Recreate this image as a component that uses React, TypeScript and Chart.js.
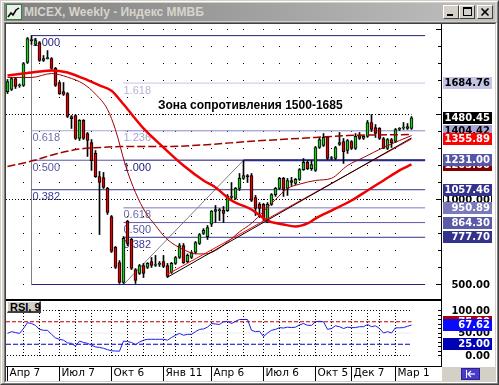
import React, { useEffect, useRef } from 'react';
import { Chart, registerables } from 'chart.js';

Chart.register(...registerables);

// ================= DATA =================
// Weekly candles (index 0 = week of 7 Apr 2008)
const opens = [
  1635, 1647, 1712, 1668, 1671, 1806, 1935, 1912, 1923, 1818,
  1829, 1829, 1771, 1688, 1635, 1623, 1488, 1494, 1359, 1465,
  1388, 1335, 1271, 1135, 1129, 1065, 900, 718, 629, 512,
  871, 765, 588, 565, 612, 600, 635, 612, 618, 635,
  612, 571, 624, 659, 729, 635, 659, 688, 741, 800,
  782, 855, 930, 935, 938, 935, 1012, 1006, 1065, 1124,
  1141, 1141, 1012, 971, 971, 865, 971, 1029, 1065, 1124,
  1065, 1112, 1094, 1118, 1176, 1218, 1182, 1171, 1306, 1318,
  1365, 1241, 1241, 1324, 1341, 1288, 1341, 1300, 1376, 1359,
  1371, 1453, 1423, 1418, 1359, 1300, 1353, 1341, 1412, 1420,
  1418, 1418,
];
const highs = [
  1706, 1718, 1718, 1680, 1806, 1953, 1964, 1947, 1929, 1847,
  1876, 1835, 1777, 1694, 1688, 1629, 1494, 1500, 1470, 1470,
  1394, 1353, 1288, 1165, 1159, 1071, 906, 724, 641, 782,
  877, 771, 594, 618, 624, 629, 659, 671, 635, 671,
  624, 630, 665, 741, 741, 680, 694, 753, 800, 829,
  847, 935, 965, 947, 959, 1029, 1100, 1071, 1153, 1229,
  1147, 1153, 1024, 982, 977, 982, 1035, 1071, 1130, 1130,
  1124, 1130, 1124, 1182, 1241, 1229, 1229, 1312, 1365, 1388,
  1371, 1253, 1312, 1394, 1359, 1353, 1347, 1388, 1394, 1376,
  1465, 1500, 1441, 1423, 1365, 1359, 1359, 1418, 1423, 1453,
  1447, 1488,
];
const lows = [
  1623, 1641, 1653, 1660, 1665, 1800, 1912, 1905, 1812, 1812,
  1826, 1765, 1665, 1618, 1612, 1482, 1418, 1353, 1347, 1353,
  1253, 1171, 1130, 794, 1065, 912, 688, 594, 506, 506,
  729, 588, 506, 559, 541, 594, 600, 606, 606, 600,
  541, 565, 618, 653, 624, 629, 653, 682, 735, 794,
  765, 841, 865, 876, 865, 930, 994, 1000, 1053, 1118,
  1100, 988, 906, 894, 876, 865, 965, 1018, 1059, 1018,
  1024, 1082, 1088, 1112, 1171, 1176, 1171, 1165, 1300, 1312,
  1235, 1235, 1235, 1318, 1212, 1271, 1294, 1294, 1353, 1353,
  1365, 1400, 1365, 1353, 1300, 1294, 1306, 1335, 1406, 1412,
  1412, 1412,
];
const closes = [
  1694, 1712, 1665, 1674, 1800, 1947, 1941, 1935, 1818, 1829,
  1832, 1771, 1671, 1623, 1618, 1488, 1476, 1359, 1465, 1359,
  1347, 1229, 1135, 1100, 1071, 924, 694, 600, 512, 771,
  741, 594, 524, 612, 565, 624, 612, 615, 624, 606,
  547, 624, 659, 729, 629, 671, 688, 747, 794, 818,
  835, 932, 941, 938, 918, 1020, 1018, 1065, 1124, 1141,
  1135, 994, 947, 947, 888, 971, 1029, 1065, 1124, 1059,
  1112, 1100, 1118, 1176, 1218, 1182, 1206, 1306, 1353, 1365,
  1241, 1247, 1306, 1335, 1282, 1347, 1300, 1371, 1359, 1371,
  1453, 1412, 1388, 1359, 1300, 1353, 1335, 1412, 1418, 1423,
  1429, 1480.45,
];
const rsi9 = [
  49, 53, 51, 49, 60, 73, 71, 67, 58, 56,
  56, 47, 39, 36, 34, 28, 27, 21, 32, 29,
  27, 23, 19, 18, 16, 13, 10.5, 10, 9.6, 32,
  31, 29, 24, 30, 34, 36, 36, 36, 36, 36,
  34, 40, 45, 49, 45, 47, 47, 53, 58, 59,
  63, 71, 70, 69, 75, 76, 71, 76, 80, 80,
  80, 56, 53, 54, 42, 50, 56, 58, 62, 61,
  63, 62, 63, 68, 71, 67, 67, 75, 76, 75,
  58, 60, 66, 64, 60, 63, 62, 62, 64, 64,
  69, 64, 66, 60, 50, 53, 50, 61.5, 61.5, 62,
  65, 67.62,
];

// Moving averages (week index, value)
const maSlowIdx = [0, 4, 8, 11, 15, 19, 23, 26, 29, 34, 39, 44, 49, 52, 56, 61, 65, 69, 72, 75, 77, 81, 86, 90, 94, 98, 101];
const maSlowVal = [1729, 1741, 1753, 1759, 1747, 1712, 1671, 1640, 1560, 1418, 1306, 1200, 1112, 1071, 994, 941, 876, 853, 841, 859, 888, 935, 994, 1053, 1112, 1171, 1206];
const maFastIdx = [0, 6, 11, 15, 19, 22, 25, 27, 29.5, 32, 34.5, 37, 39.5, 42, 44.5, 47, 49.5, 52, 55, 58, 61, 64, 67, 70, 73, 77, 81, 85, 89, 94, 98, 101];
const maFastVal = [1718, 1718, 1741, 1720, 1680, 1620, 1530, 1410, 1200, 1041, 924, 847, 775, 730, 700, 680, 680, 700, 750, 810, 860, 930, 1000, 1065, 1090, 1112, 1125, 1200, 1247, 1306, 1347, 1376];
const maLongIdx = [0, 6.5, 12.5, 19, 23, 30, 40, 50.7, 60, 77, 85, 101];
const maLongVal = [1194, 1229, 1271, 1300, 1306, 1312, 1312, 1324, 1341, 1365, 1376, 1382];

// Trend lines
const trendBlackIdx = [40, 101];
const trendBlackVal = [543, 1362];
const trendRedIdx = [40, 101];
const trendRedVal = [560, 1356];

// Fibonacci drawings
const fibBigAnchorIdx = 6;
const fibSmallAnchorIdx = 29;
const fibEndIdx = 104.4;
const fibBigLevels = [1964, 1404.42, 1231.0, 1057.46, 500.0];
const fibBigNames = ['1.000', '0.618', '0.500', '0.382', ''];
const fibSmallLevels = [1684.76, 1404.42, 1231.0, 950.89, 864.3, 777.7];
const fibSmallNames = ['1.618', '1.236', '1.000', '0.618', '0.500', '0.382'];
const swingIdx = [29, 59];
const swingVal = [500, 1231];
const peakLineIdx = [59, 104.4];
const peakLineVal = [1231, 1231];

const dottedLevels = [1500, 1000];
const dottedEndIdx = 101;
const gridLevels = [500, 600, 700, 800, 900, 1000, 1100, 1200, 1300, 1400, 1500, 1600, 1700, 1800, 1900, 2000];
const rsiLevels = [75, 50, 25];

const dateTickIdx = [0, 13, 26, 39, 51, 64, 77, 86, 97];
const dateTickLabels = ['Апр 7', 'Июл 7', 'Окт 6', 'Янв 11', 'Апр 6', 'Июл 6', 'Окт 5', 'Дек 7', 'Мар 1'];
const monthStartIdx = [4, 8, 13, 17, 21, 26, 30, 34, 39, 42, 46, 51, 55, 59, 64, 68, 73, 77, 81, 86, 90, 93, 97];

const priceMarks = [1684.76, 1404.42, 1480.45, 1355.89, 1203.0, 1231.0, 1000.0, 1057.46, 950.89, 864.3, 777.7, 500.0];
const rsiMarks = [100, 50, 75, 67.62, 25, 0];

const zoneText = 'Зона сопротивления 1500-1685';

// ================= STYLE / GEOMETRY =================
const X_MIN = -0.375;
const X_MAX = 108.375;
const P_MAX = 500 + 260.5 / 0.17;
const P_MIN = P_MAX - 275 / 0.17;
const R_MAX = 100 + 9.5 / 0.45;
const R_MIN = -(65 - 54.5) / 0.45;
const AXIS_W = 54;
const zoneAnchor = { idx: 37.6, price: 1553 };

const GREEN = '#1ec81e';
const RED = '#e00000';
const fibBigLineColors = ['#22227e', '#a8a8d8', '#5656a6', '#33338e', '#22227e'];
const fibBigTextColors = ['#22227e', '#6c6cac', '#5656a6', '#3a3a96', '#22227e'];
const fibSmallLineColors = ['#c6c6e6', '#a8a8d8', '#5656a6', '#7a7aba', '#5a5aa8', '#33338e'];
const fibSmallTextColors = ['#b4b4d8', '#a4a4cc', '#1e1e78', '#6c6cac', '#5656a6', '#3a3a96'];
const priceMarkBg = ['#c4c4e6', '#a8a8d8', '#000000', '#ff0000', '#800000', '#5656a6', '#ffffff', '#33338e', '#7a7aba', '#5a5aa8', '#33338e', ''];
const priceMarkFg = ['#000', '#000', '#fff', '#fff', '#fff', '#fff', '#000', '#fff', '#fff', '#fff', '#fff', '#000'];
const rsiMarkBg = ['', '', '#b00000', '#0a0aff', '#0000b4', ''];
const rsiMarkFg = ['#000', '#000', '#fff', '#fff', '#fff', '#000'];
const LABEL_FONT = 'bold 10px "DejaVu Sans", sans-serif';

const pts = (xs: number[], ys: number[]) => xs.map((x, i) => ({ x, y: ys[i] }));

function lineDs(data: any[], color: string, width: number, order: number, dash: number[] = [], smooth = false): any {
  return {
    type: 'line',
    data,
    borderColor: color,
    borderWidth: width,
    borderDash: dash,
    pointRadius: 0,
    fill: false,
    tension: 0,
    cubicInterpolationMode: smooth ? 'monotone' : 'default',
    order,
  };
}

function drawMark(ctx: CanvasRenderingContext2D, right: number, py: number, text: string, bg: string, fg: string) {
  const top = Math.round(py - 6);
  if (bg) {
    ctx.fillStyle = bg;
    ctx.fillRect(right + 2, top, 49, 12);
    if (bg === '#ffffff') {
      ctx.strokeStyle = '#000';
      ctx.lineWidth = 1;
      ctx.strokeRect(right + 2.5, top + 0.5, 48, 11);
    }
  }
  ctx.fillStyle = fg;
  ctx.font = LABEL_FONT;
  ctx.textAlign = 'right';
  ctx.textBaseline = 'middle';
  ctx.fillText(text, right + 49, top + 6.5);
}

const mainPlugin: any = {
  id: 'mainDecor',
  beforeDatasetsDraw(chart: any) {
    const { ctx, scales } = chart;
    const x = scales.x;
    const y = scales.y;
    ctx.save();
    ctx.fillStyle = '#000';
    for (const m of monthStartIdx) {
      const px = Math.floor(x.getPixelForValue(m));
      for (const g of gridLevels) {
        ctx.fillRect(px, Math.floor(y.getPixelForValue(g)), 1, 1);
      }
    }
    ctx.font = '11px "Liberation Sans", Arial, sans-serif';
    ctx.textBaseline = 'top';
    ctx.textAlign = 'left';
    fibBigLevels.forEach((lv, k) => {
      if (!fibBigNames[k]) return;
      ctx.fillStyle = fibBigTextColors[k];
      ctx.fillText(fibBigNames[k], x.getPixelForValue(fibBigAnchorIdx) + 1, y.getPixelForValue(lv) + 2);
    });
    fibSmallLevels.forEach((lv, k) => {
      ctx.fillStyle = fibSmallTextColors[k];
      ctx.fillText(fibSmallNames[k], x.getPixelForValue(fibSmallAnchorIdx), y.getPixelForValue(lv) + 2);
    });
    ctx.restore();
  },
  afterDatasetsDraw(chart: any) {
    const { ctx, scales } = chart;
    ctx.save();
    ctx.font = 'bold 12px "Liberation Sans", Arial, sans-serif';
    ctx.fillStyle = '#000';
    ctx.textAlign = 'left';
    ctx.textBaseline = 'middle';
    ctx.fillText(zoneText, scales.x.getPixelForValue(zoneAnchor.idx), scales.y.getPixelForValue(zoneAnchor.price));
    ctx.restore();
  },
  afterDraw(chart: any) {
    const { ctx, chartArea: a, scales } = chart;
    const y = scales.y;
    ctx.save();
    ctx.fillStyle = '#000';
    for (const g of gridLevels) {
      const py = Math.floor(y.getPixelForValue(g));
      const len = g % 500 === 0 ? 5 : 3;
      ctx.fillRect(a.right - len, py, len, 1);
    }
    priceMarks.forEach((v, k) => {
      drawMark(ctx, a.right, y.getPixelForValue(v), v.toFixed(2), priceMarkBg[k], priceMarkFg[k]);
    });
    ctx.restore();
  },
};

const rsiPlugin: any = {
  id: 'rsiDecor',
  beforeDatasetsDraw(chart: any) {
    const { ctx, scales } = chart;
    const x = scales.x;
    const y = scales.y;
    ctx.save();
    ctx.fillStyle = '#000';
    const xStart = Math.ceil(x.getPixelForValue(X_MIN)) + 1;
    const xEnd = x.getPixelForValue(dottedEndIdx);
    for (const lv of [100, 0]) {
      const py = Math.floor(y.getPixelForValue(lv));
      for (let px = xStart; px <= xEnd; px += 3) ctx.fillRect(px, py, 1, 1);
    }
    const top = Math.floor(y.getPixelForValue(100));
    const bot = y.getPixelForValue(0);
    for (const m of monthStartIdx) {
      const px = Math.floor(x.getPixelForValue(m));
      for (let py = top; py <= bot; py += 3) ctx.fillRect(px, py, 1, 1);
    }
    ctx.restore();
  },
  afterDraw(chart: any) {
    const { ctx, chartArea: a, scales } = chart;
    const y = scales.y;
    ctx.save();
    ctx.fillStyle = '#000';
    for (const v of [0, 10, 20, 30, 40, 50, 60, 70, 80, 90, 100]) {
      ctx.fillRect(a.right - 3, Math.floor(y.getPixelForValue(v)), 3, 1);
    }
    rsiMarks.forEach((v, k) => {
      drawMark(ctx, a.right, y.getPixelForValue(v), v.toFixed(2), rsiMarkBg[k], rsiMarkFg[k]);
    });
    ctx.restore();
  },
};

function mainConfig(): any {
  const idx = opens.map((_, i) => i);
  const datasets: any[] = [];
  fibBigLevels.forEach((lv, k) => {
    datasets.push(lineDs(pts([fibBigAnchorIdx, fibEndIdx], [lv, lv]), fibBigLineColors[k], 1, 20));
  });
  fibSmallLevels.forEach((lv, k) => {
    datasets.push(lineDs(pts([fibSmallAnchorIdx, fibEndIdx], [lv, lv]), fibSmallLineColors[k], 1, 20));
  });
  datasets.push(lineDs(pts(peakLineIdx, peakLineVal), '#2a2a88', 2, 19));
  datasets.push(lineDs(pts([fibBigAnchorIdx, fibBigAnchorIdx], [fibBigLevels[4], fibBigLevels[0]]), '#808080', 1, 20));
  datasets.push(lineDs(pts(swingIdx, swingVal), '#808080', 1, 20));
  dottedLevels.forEach((lv) => {
    datasets.push(lineDs(pts([X_MIN, dottedEndIdx], [lv, lv]), '#000', 1, 20, [1, 2]));
  });
  datasets.push({
    type: 'bar',
    data: idx.map((i) => ({ x: i, y: [lows[i], highs[i]] })),
    backgroundColor: '#000',
    borderWidth: 0,
    barThickness: 1,
    grouped: false,
    order: 6,
  });
  datasets.push({
    type: 'bar',
    data: idx.map((i) => ({ x: i, y: [opens[i], closes[i]] })),
    backgroundColor: idx.map((i) => (closes[i] >= opens[i] ? GREEN : RED)),
    borderColor: '#000',
    borderWidth: 1,
    borderSkipped: false,
    barThickness: 3,
    minBarLength: 1,
    grouped: false,
    order: 5,
  });
  datasets.push(lineDs(pts(maLongIdx, maLongVal), '#a00000', 1.5, 3, [8, 3], true));
  datasets.push(lineDs(pts(maFastIdx, maFastVal), '#a00000', 1, 3, [], true));
  datasets.push(lineDs(pts(maSlowIdx, maSlowVal), '#f00000', 2.5, 2, [], true));
  datasets.push(lineDs(pts(trendBlackIdx, trendBlackVal), '#000', 1, 1));
  datasets.push(lineDs(pts(trendRedIdx, trendRedVal), '#ff0000', 1, 1));

  return {
    type: 'bar',
    data: { datasets },
    options: {
      animation: false,
      responsive: false,
      devicePixelRatio: 1,
      events: [],
      layout: { padding: 0 },
      plugins: { legend: { display: false }, tooltip: { enabled: false } },
      scales: {
        x: {
          type: 'linear',
          display: false,
          min: X_MIN,
          max: X_MAX,
          offset: false,
          grid: { offset: false },
        },
        y: {
          type: 'linear',
          position: 'right',
          min: P_MIN,
          max: P_MAX,
          ticks: { display: false },
          grid: { display: true, drawOnChartArea: false, drawTicks: false },
          border: { display: true, color: '#000', width: 1 },
          afterFit: (s: any) => { s.width = AXIS_W; },
        },
      },
    },
    plugins: [mainPlugin],
  };
}

function rsiConfig(): any {
  const idx = rsi9.map((_, i) => i);
  const levelColors = ['#c00000', '#ececec', '#0000c0'];
  const levelDash = [[4, 2], [], [5, 2]];
  const datasets: any[] = rsiLevels.map((lv, k) =>
    lineDs(pts([X_MIN, dottedEndIdx], [lv, lv]), levelColors[k], 1, 5, levelDash[k])
  );
  datasets.push(lineDs(idx.map((i) => ({ x: i, y: rsi9[i] })), '#1c1cf0', 1, 1));
  return {
    type: 'line',
    data: { datasets },
    options: {
      animation: false,
      responsive: false,
      devicePixelRatio: 1,
      events: [],
      layout: { padding: 0 },
      plugins: { legend: { display: false }, tooltip: { enabled: false } },
      scales: {
        x: {
          type: 'linear',
          position: 'bottom',
          min: X_MIN,
          max: X_MAX,
          offset: false,
          afterBuildTicks: (s: any) => { s.ticks = dateTickIdx.map((v) => ({ value: v })); },
          afterFit: (s: any) => { s.height = 15; },
          ticks: {
            autoSkip: false,
            maxRotation: 0,
            align: 'start',
            labelOffset: 2,
            padding: -14,
            color: '#000',
            font: { family: '"DejaVu Sans", sans-serif', size: 10.5 },
            callback: (_v: any, i: number) => dateTickLabels[i],
          },
          grid: { display: true, drawOnChartArea: false, drawTicks: true, tickLength: 15, tickColor: '#000', tickWidth: 1, offset: false },
          border: { display: true, color: '#000', width: 1 },
        },
        y: {
          type: 'linear',
          position: 'right',
          min: R_MIN,
          max: R_MAX,
          ticks: { display: false },
          grid: { display: true, drawOnChartArea: false, drawTicks: false },
          border: { display: true, color: '#000', width: 1 },
          afterFit: (s: any) => { s.width = AXIS_W; },
        },
      },
    },
    plugins: [rsiPlugin],
  };
}

const abs = (o: React.CSSProperties): React.CSSProperties => ({ position: 'absolute', boxSizing: 'border-box', ...o });
const raised: React.CSSProperties = {
  background: '#d4d0c8',
  borderTop: '1px solid #ffffff',
  borderLeft: '1px solid #ffffff',
  borderRight: '1px solid #404040',
  borderBottom: '1px solid #404040',
};

export default function App() {
  const mainRef = useRef<HTMLCanvasElement | null>(null);
  const rsiRef = useRef<HTMLCanvasElement | null>(null);

  useEffect(() => {
    if (!mainRef.current || !rsiRef.current) return;
    const main = new Chart(mainRef.current, mainConfig());
    const rsi = new Chart(rsiRef.current, rsiConfig());
    return () => {
      main.destroy();
      rsi.destroy();
    };
  }, []);

  return (
    <div style={{ position: 'fixed', left: 0, top: 0, width: 499, height: 385, background: '#d4d0c8', overflow: 'hidden' }}>
      {/* window frame */}
      <div style={abs({ left: 0, top: 0, width: 499, height: 385, borderTop: '1px solid #d4d0c8', borderLeft: '1px solid #d4d0c8', borderRight: '1px solid #404040', borderBottom: '1px solid #404040' })} />
      <div style={abs({ left: 1, top: 1, width: 497, height: 383, borderTop: '1px solid #ffffff', borderLeft: '1px solid #ffffff', borderRight: '1px solid #808080', borderBottom: '1px solid #808080' })} />
      {/* title bar */}
      <div style={abs({ left: 4, top: 3, width: 491, height: 18, background: 'linear-gradient(to right, #808080, #c0c0c0)' })} />
      <div style={abs({ left: 6, top: 4, width: 16, height: 16, background: '#e8efe8', border: '1px solid #3a7a3a' })}>
        <svg width="14" height="14" style={{ position: 'absolute', left: 0, top: 0 }}>
          <polyline points="1,12 4,8 6,10 9,5 12,3" fill="none" stroke="#000" strokeWidth="1.5" />
        </svg>
      </div>
      <div style={abs({ left: 24, top: 3, height: 18, lineHeight: '18px', fontFamily: '"Liberation Sans", Arial, sans-serif', fontWeight: 'bold', fontSize: 12, color: '#d8d4cc', whiteSpace: 'nowrap' })}>
        MICEX, Weekly - Индекс ММВБ
      </div>
      <div style={abs({ left: 443, top: 5, width: 16, height: 14, ...raised })}>
        <div style={abs({ left: 3, top: 8, width: 6, height: 2, background: '#000' })} />
      </div>
      <div style={abs({ left: 459, top: 5, width: 16, height: 14, ...raised })}>
        <div style={abs({ left: 3, top: 1, width: 9, height: 9, borderTop: '2px solid #000', borderLeft: '1px solid #000', borderRight: '1px solid #000', borderBottom: '1px solid #000' })} />
      </div>
      <div style={abs({ left: 477, top: 5, width: 16, height: 14, ...raised })}>
        <svg width="14" height="12" style={{ position: 'absolute', left: 0, top: 0 }}>
          <line x1="3.5" y1="2.5" x2="10.5" y2="9.5" stroke="#000" strokeWidth="1.6" />
          <line x1="10.5" y1="2.5" x2="3.5" y2="9.5" stroke="#000" strokeWidth="1.6" />
        </svg>
      </div>
      {/* client sunken border */}
      <div style={abs({ left: 4, top: 22, width: 493, height: 361, borderTop: '1px solid #808080', borderLeft: '1px solid #808080', borderRight: '1px solid #ffffff', borderBottom: '1px solid #ffffff' })} />
      <div style={abs({ left: 5, top: 23, width: 491, height: 359, borderTop: '1px solid #404040', borderLeft: '1px solid #404040', borderRight: '1px solid #d4d0c8', borderBottom: '1px solid #d4d0c8' })} />
      {/* white panes */}
      <div style={abs({ left: 6, top: 24, width: 489, height: 343, background: '#ffffff' })} />
      <div style={abs({ left: 6, top: 366, width: 436, height: 15, background: '#ffffff' })} />
      <canvas ref={mainRef} width={489} height={275} style={{ position: 'absolute', left: 6, top: 24, width: 489, height: 275 }} />
      <div style={abs({ left: 6, top: 299, width: 436, height: 2, background: '#000' })} />
      <canvas ref={rsiRef} width={489} height={80} style={{ position: 'absolute', left: 6, top: 301, width: 489, height: 80 }} />
      {/* corner with scroll button */}
      <div style={abs({ left: 442, top: 367, width: 53, height: 14, background: '#d4d0c8' })} />
      <div style={abs({ left: 461, top: 368, width: 19, height: 12, background: '#4a3cc8', border: '1px solid #2a2090' })}>
        <svg width="17" height="10" style={{ position: 'absolute', left: 0, top: 0 }}>
          <line x1="4.5" y1="1" x2="4.5" y2="9" stroke="#fff" strokeWidth="1" />
          <line x1="6" y1="5" x2="13" y2="5" stroke="#fff" strokeWidth="1.2" />
          <polyline points="9,2 6,5 9,8" fill="none" stroke="#fff" strokeWidth="1.2" />
        </svg>
      </div>
      {/* RSI caption */}
      <div style={abs({ left: 7, top: 301, width: 34, height: 12, ...raised, borderRight: '2px solid #404040', borderBottom: '2px solid #404040' })}>
        <div style={{ position: 'absolute', left: 2, top: -1, fontFamily: '"Liberation Sans", Arial, sans-serif', fontWeight: 'bold', fontSize: 11, lineHeight: '12px', color: '#000', whiteSpace: 'nowrap' }}>RSI, 9</div>
      </div>
    </div>
  );
}
